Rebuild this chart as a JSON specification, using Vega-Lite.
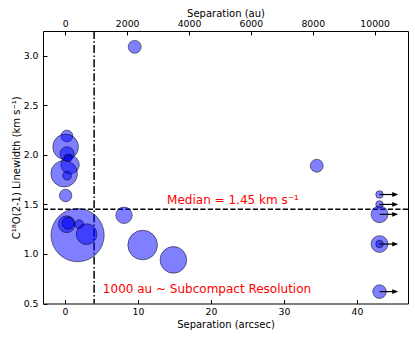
{
  "$schema": "https://vega.github.io/schema/vega-lite/v6.json",
  "width": 365,
  "height": 272.5,
  "autosize": {"type": "none"},
  "padding": {"left": 43, "top": 31, "right": 7, "bottom": 35.5},
  "background": "white",
  "config": {
    "view": {"stroke": "black", "strokeWidth": 1},
    "font": "DejaVu Sans",
    "axis": {
      "domain": false,
      "grid": false,
      "tickColor": "black",
      "tickSize": -4,
      "tickWidth": 1,
      "labelFont": "DejaVu Sans",
      "labelFontSize": 9.3,
      "labelColor": "black",
      "titleFont": "DejaVu Sans",
      "titleFontSize": 10,
      "titleFontWeight": "normal",
      "titleColor": "black"
    }
  },
  "datasets": {
    "cores": [
      {"sep": 9.56, "lw": 3.09, "mass": 53},
      {"sep": 34.5, "lw": 1.89, "mass": 53},
      {"sep": 0.27, "lw": 2.19, "mass": 45},
      {"sep": 0.1, "lw": 2.08, "mass": 210},
      {"sep": 0.3, "lw": 2.01, "mass": 64},
      {"sep": 0.45, "lw": 1.97, "mass": 20},
      {"sep": 0.7, "lw": 1.9, "mass": 110},
      {"sep": -0.1, "lw": 1.81, "mass": 225},
      {"sep": 0.3, "lw": 1.79, "mass": 25},
      {"sep": 0.1, "lw": 1.59, "mass": 49},
      {"sep": 1.74, "lw": 1.19, "mass": 900},
      {"sep": 0.25, "lw": 1.3, "mass": 90},
      {"sep": 0.45, "lw": 1.31, "mass": 45},
      {"sep": 1.96, "lw": 1.3, "mass": 25},
      {"sep": 2.97, "lw": 1.2, "mass": 137},
      {"sep": 8.1, "lw": 1.39, "mass": 86},
      {"sep": 10.65, "lw": 1.09, "mass": 279},
      {"sep": 14.86, "lw": 0.94, "mass": 225},
      {"sep": 43.1, "lw": 1.6, "mass": 18},
      {"sep": 43.1, "lw": 1.5, "mass": 18},
      {"sep": 43.1, "lw": 1.4, "mass": 90},
      {"sep": 43.1, "lw": 1.1, "mass": 90},
      {"sep": 43.1, "lw": 1.1, "mass": 18},
      {"sep": 43.1, "lw": 0.62, "mass": 59}
    ],
    "limits": [
      {"sep": 43.1, "sep_end": 45.25, "lw": 1.6},
      {"sep": 43.1, "sep_end": 45.25, "lw": 1.5},
      {"sep": 43.1, "sep_end": 45.25, "lw": 1.4},
      {"sep": 43.1, "sep_end": 45.25, "lw": 1.1},
      {"sep": 43.1, "sep_end": 45.25, "lw": 0.62}
    ],
    "au_ticks": [{"au": 0}, {"au": 10000}]
  },
  "layer": [
    {
      "layer": [
        {
          "data": {"values": [{"lw": 1.45}]},
          "mark": {"type": "rule", "color": "black", "strokeWidth": 1.5, "strokeDash": [5.2, 2.3]},
          "encoding": {"y": {"field": "lw", "type": "quantitative"}}
        },
        {
          "data": {"values": [{"sep": 4}]},
          "mark": {"type": "rule", "color": "black", "strokeWidth": 1.5, "strokeDash": [8, 2.3, 1.5, 2.3]},
          "encoding": {"x": {"field": "sep", "type": "quantitative"}}
        },
        {
          "data": {"name": "cores"},
          "mark": {"type": "circle", "fill": "blue", "fillOpacity": 0.5, "stroke": "black", "strokeOpacity": 0.5, "strokeWidth": 1, "opacity": 1},
          "encoding": {
            "x": {
              "field": "sep", "type": "quantitative",
              "scale": {"domain": [-3, 47], "nice": false, "zero": false},
              "axis": {"orient": "bottom", "values": [0, 10, 20, 30, 40], "title": "Separation (arcsec)", "labelPadding": 8, "titlePadding": 3}
            },
            "y": {
              "field": "lw", "type": "quantitative",
              "scale": {"domain": [0.5, 3.25], "nice": false, "zero": false},
              "axis": {"values": [0.5, 1.0, 1.5, 2.0, 2.5, 3.0], "format": ".1f", "title": "C¹⁸O(2-1) Linewidth (km s⁻¹)", "labelPadding": 9, "titlePadding": 2}
            },
            "size": {"field": "mass", "type": "quantitative", "scale": {"domain": [0, 100], "range": [0, 314.16], "zero": true}, "legend": null}
          }
        },
        {
          "data": {"name": "limits"},
          "mark": {"type": "rule", "color": "black", "strokeWidth": 1.2},
          "encoding": {
            "x": {"field": "sep", "type": "quantitative"},
            "x2": {"field": "sep_end"},
            "y": {"field": "lw", "type": "quantitative"}
          }
        },
        {
          "data": {"name": "limits"},
          "mark": {"type": "point", "shape": "M -1 -0.8 L 1 0 L -1 0.8 Z", "filled": true, "color": "black", "size": 36, "opacity": 1},
          "encoding": {
            "x": {"field": "sep_end", "type": "quantitative"},
            "y": {"field": "lw", "type": "quantitative"}
          }
        },
        {
          "data": {"values": [{"sep": 14, "lw": 1.545, "label": "Median = 1.45 km s⁻¹"}, {"sep": 5.2, "lw": 0.65, "label": "1000 au ~ Subcompact Resolution"}]},
          "mark": {"type": "text", "align": "left", "baseline": "middle", "color": "red", "font": "DejaVu Sans", "fontSize": 12},
          "encoding": {
            "x": {"field": "sep", "type": "quantitative"},
            "y": {"field": "lw", "type": "quantitative"},
            "text": {"field": "label"}
          }
        }
      ]
    },
    {
      "data": {"name": "au_ticks"},
      "mark": {"type": "rule", "opacity": 0},
      "encoding": {
        "x": {
          "field": "au", "type": "quantitative",
          "scale": {"domain": [-720, 11080], "nice": false, "zero": false},
          "axis": {"orient": "top", "values": [0, 2000, 4000, 6000, 8000, 10000], "format": "d", "title": "Separation (au)", "labelPadding": 7, "titlePadding": 1}
        }
      }
    }
  ],
  "resolve": {"scale": {"x": "independent"}, "axis": {"x": "independent"}}
}
